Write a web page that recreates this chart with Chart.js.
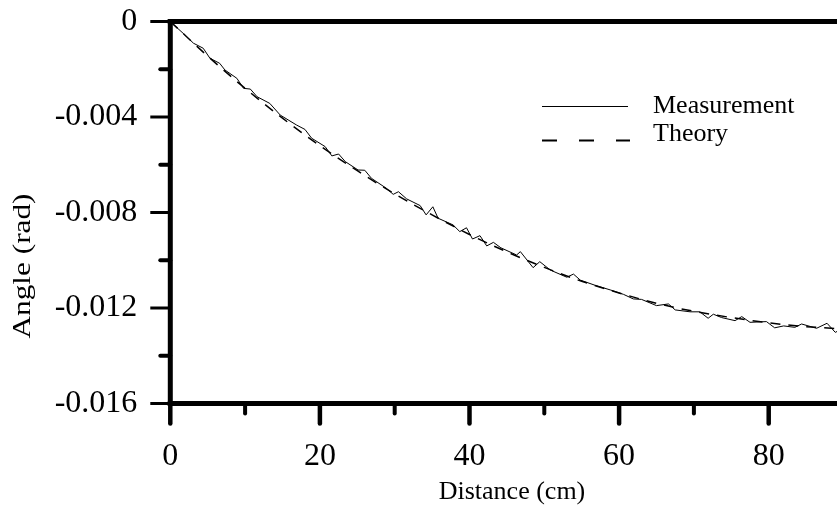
<!DOCTYPE html>
<html><head><meta charset="utf-8">
<script src="https://cdn.jsdelivr.net/npm/chart.js@4.4.1/dist/chart.umd.min.js"></script>
<style>html,body{margin:0;padding:0;background:#fff;overflow:hidden}#wrap{width:837px;height:508px;overflow:hidden;position:relative;background:#fff}</style>
</head><body><div id="wrap"><canvas id="c" width="850" height="508"></canvas></div>
<script>
// ---- data ----
const measX = [0, 0.4, 1.7, 3.1, 4.4, 5.3, 6.6, 7.3, 8.9, 9.8, 10.7, 11.6, 13.3, 14.7, 16.9, 18.0, 18.9, 20.7, 21.6, 22.5, 23.4, 25.1, 26.0, 26.9, 28.9, 29.4, 29.8, 30.5, 31.6, 33.4, 34.2, 35.1, 35.8, 37.8, 38.7, 39.6, 40.4, 41.4, 42.3, 43.2, 44.2, 46.3, 46.8, 48.5, 49.4, 50.8, 53.0, 53.9, 54.8, 56.8, 58.9, 60.6, 61.9, 63.0, 65.0, 66.6, 67.5, 69.5, 70.8, 71.9, 72.6, 73.7, 75.5, 76.4, 77.5, 79.7, 80.8, 82.0, 83.5, 84.4, 86.4, 87.8, 88.9, 90];
const measY = [0, -0.00012, -0.00049, -0.00091, -0.00112, -0.00154, -0.00175, -0.00203, -0.00238, -0.00280, -0.00283, -0.00315, -0.00343, -0.00392, -0.00434, -0.00452, -0.00489, -0.00524, -0.00563, -0.00555, -0.00587, -0.00622, -0.00623, -0.00657, -0.00699, -0.00713, -0.00724, -0.00713, -0.00743, -0.00771, -0.00810, -0.00776, -0.00824, -0.00852, -0.00880, -0.00864, -0.00911, -0.00897, -0.00940, -0.00925, -0.00948, -0.00978, -0.00964, -0.01031, -0.01006, -0.01041, -0.01071, -0.01058, -0.01083, -0.01105, -0.01125, -0.01143, -0.01162, -0.01164, -0.01190, -0.01183, -0.01208, -0.01216, -0.01216, -0.01243, -0.01226, -0.01240, -0.01253, -0.01236, -0.01260, -0.01257, -0.01283, -0.01275, -0.01281, -0.01267, -0.01285, -0.01264, -0.01302, -0.01285];
const theoryX = [0, 5, 10, 15, 20, 25, 30, 35, 40, 45, 50, 55, 60, 65, 70, 75, 80, 85, 90];
const theoryY = [0, -0.00145, -0.00280, -0.00405, -0.00520, -0.00625, -0.00722, -0.00810, -0.00892, -0.00965, -0.01030, -0.01088, -0.01137, -0.01180, -0.01214, -0.01240, -0.01262, -0.01278, -0.01288];
const xTickValues = [0, 20, 40, 60, 80];
const xMinorValues = [10, 30, 50, 70, 90];
const yTickValues = [0, -0.004, -0.008, -0.012, -0.016];
const yMinorValues = [-0.002, -0.006, -0.010, -0.014];
const seriesLabels = ['Measurement', 'Theory'];
const xTitle = 'Distance (cm)';
const yTitle = 'Angle (rad)';

const FONT = "'Liberation Serif', 'Times New Roman', serif";

const axesPlugin = {
  id: 'axesPlugin',
  afterDatasetsDraw(chart) {
    const ctx = chart.ctx, a = chart.chartArea;
    const xs = chart.scales.x, ys = chart.scales.y;
    ctx.save();
    ctx.strokeStyle = '#000';
    ctx.fillStyle = '#000';
    // y major ticks
    ctx.lineCap = 'butt';
    ctx.lineWidth = 3;
    yTickValues.forEach(v => { const p = ys.getPixelForValue(v); ctx.beginPath(); ctx.moveTo(a.left - 20, p); ctx.lineTo(a.left, p); ctx.stroke(); });
    // y minor ticks
    ctx.lineCap = 'round';
    ctx.lineWidth = 4;
    yMinorValues.forEach(v => { const p = ys.getPixelForValue(v); ctx.beginPath(); ctx.moveTo(a.left - 10, p); ctx.lineTo(a.left, p); ctx.stroke(); });
    // x major ticks
    ctx.lineWidth = 4.5;
    xTickValues.forEach(v => { const p = xs.getPixelForValue(v); ctx.beginPath(); ctx.moveTo(p, a.bottom); ctx.lineTo(p, a.bottom + 20); ctx.stroke(); });
    ctx.lineWidth = 4;
    xMinorValues.forEach(v => { const p = xs.getPixelForValue(v); ctx.beginPath(); ctx.moveTo(p, a.bottom); ctx.lineTo(p, a.bottom + 10); ctx.stroke(); });
    // axis lines
    ctx.lineCap = 'butt';
    ctx.lineWidth = 5;
    ctx.beginPath(); ctx.moveTo(a.left - 2.5, a.top); ctx.lineTo(a.right + 3, a.top); ctx.stroke();
    ctx.beginPath(); ctx.moveTo(a.left, a.top - 2.5); ctx.lineTo(a.left, a.bottom + 2.5); ctx.stroke();
    ctx.beginPath(); ctx.moveTo(a.left - 2.5, a.bottom); ctx.lineTo(a.right + 3, a.bottom); ctx.stroke();
    ctx.beginPath(); ctx.moveTo(a.right, a.top); ctx.lineTo(a.right, a.bottom); ctx.stroke();
    // axis titles
    ctx.font = '26px ' + FONT;
    ctx.textAlign = 'center';
    ctx.textBaseline = 'alphabetic';
    ctx.fillText(xTitle, 512, 499);
    ctx.save();
    ctx.font = '25px ' + FONT;
    ctx.translate(30, 266);
    ctx.rotate(-Math.PI / 2);
    const w = ctx.measureText(yTitle).width;
    ctx.scale(145 / w, 1);
    ctx.fillText(yTitle, 0, 0);
    ctx.restore();
    // legend
    ctx.textAlign = 'left';
    ctx.lineWidth = 1;
    ctx.beginPath(); ctx.moveTo(542, 106.5); ctx.lineTo(628, 106.5); ctx.stroke();
    ctx.fillText(seriesLabels[0], 653, 113);
    ctx.lineWidth = 2;
    ctx.setLineDash([15, 22]);
    ctx.beginPath(); ctx.moveTo(542, 140.5); ctx.lineTo(630, 140.5); ctx.stroke();
    ctx.setLineDash([]);
    ctx.fillText(seriesLabels[1], 653, 141);
    ctx.restore();
  }
};

new Chart(document.getElementById('c'), {
  type: 'line',
  data: {
    datasets: [
      {
        label: seriesLabels[0],
        data: measX.map((x, i) => ({ x: x, y: measY[i] })),
        borderColor: '#000', borderWidth: 1, pointRadius: 0, tension: 0, fill: false
      },
      {
        label: seriesLabels[1],
        data: theoryX.map((x, i) => ({ x: x, y: theoryY[i] })),
        borderColor: '#000', borderWidth: 1.5, borderDash: [10, 8], pointRadius: 0,
        cubicInterpolationMode: 'monotone', fill: false
      }
    ]
  },
  options: {
    responsive: false,
    animation: false,
    devicePixelRatio: 1,
    layout: { padding: { top: 21.5, right: 6.5, left: 0, bottom: 0 } },
    plugins: { legend: { display: false }, tooltip: { enabled: false } },
    scales: {
      x: {
        type: 'linear', min: 0, max: 90,
        afterBuildTicks: s => { s.ticks = xTickValues.map(v => ({ value: v })); },
        afterFit: s => { s.height = 104.5; s.paddingLeft = 0; s.paddingRight = 0; s.paddingTop = 0; s.paddingBottom = 0; },
        grid: { display: false, drawTicks: false },
        border: { display: false },
        ticks: { color: '#000', font: { family: FONT, size: 32 }, padding: 34, maxRotation: 0, autoSkip: false }
      },
      y: {
        type: 'linear', min: -0.016, max: 0,
        afterBuildTicks: s => { s.ticks = yTickValues.map(v => ({ value: v })); },
        afterFit: s => { s.width = 170.3; s.paddingLeft = 0; s.paddingRight = 0; s.paddingTop = 0; s.paddingBottom = 0; },
        grid: { display: false, drawTicks: false },
        border: { display: false },
        ticks: { color: '#000', font: { family: FONT, size: 32 }, padding: 33, autoSkip: false,
          callback: v => (v === 0 ? '0' : String(v)) }
      }
    }
  },
  plugins: [axesPlugin]
});
</script>
</body></html>
